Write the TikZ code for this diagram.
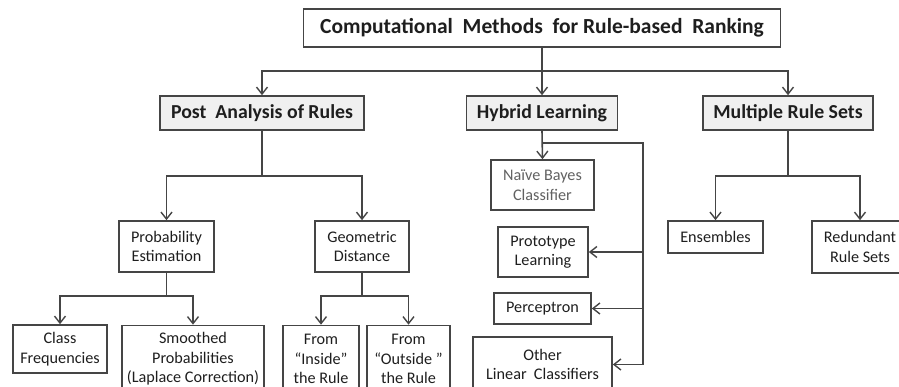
\documentclass[tikz,border=0pt]{standalone}
\usepackage{fontspec}
\setmainfont{Carlito}
\usetikzlibrary{arrows.meta}
\definecolor{linec}{HTML}{454545}
\definecolor{txtc}{HTML}{1E1E1E}
\definecolor{hdfill}{HTML}{F0F0F0}
\tikzset{
  x=1pt, y=-1pt,
  box/.style={draw=linec, line width=1.6pt, rectangle, inner sep=0pt, align=center, text=txtc, font=\fontsize{16.2}{19.5}\selectfont},
  topbox/.style={box, fill=white, font=\bfseries\fontsize{21.5}{24}\selectfont},
  hdbox/.style={box, fill=hdfill, font=\bfseries\fontsize{19.8}{22}\selectfont},
  conn/.style={draw=linec, line width=1.6pt},
  arr/.style={conn, -{Straight Barb[length=7pt,width=11pt,line width=1.4pt]}},
}
\begin{document}
\begin{tikzpicture}
\useasboundingbox (0,0) rectangle (899,387);
\clip (0,0) rectangle (899,387);
% nodes
\node[topbox, minimum width=477pt, minimum height=38pt] (top) at (542,28) {Computational\ \ Methods\ \ for Rule-based\ \ Ranking};
\node[hdbox, minimum width=204pt, minimum height=34pt] (post) at (262,113) {Post\ \ Analysis of Rules};
\node[hdbox, minimum width=151pt, minimum height=34pt] (hybrid) at (542,113) {Hybrid Learning};
\node[hdbox, minimum width=170pt, minimum height=34pt] (multi) at (788,113) {Multiple Rule Sets};
\node[box, minimum width=95pt, minimum height=51pt] (prob) at (166.5,246.5) {Probability\\Estimation};
\node[box, minimum width=94pt, minimum height=51pt] (geom) at (362,246.5) {Geometric\\Distance};
\node[box, minimum width=94pt, minimum height=48pt] (class) at (60,349) {Class\\Frequencies};
\node[box, minimum width=142pt, minimum height=67pt] (smooth) at (193,359) {Smoothed\\Probabilities\\(Laplace Correction)};
\node[box, minimum width=76pt, minimum height=67pt] (inside) at (321,359) {From\\``Inside''\\the Rule};
\node[box, minimum width=83pt, minimum height=67pt] (outside) at (408.5,359) {From\\``Outside~''\\the Rule};
\node[box, minimum width=103pt, minimum height=50pt, text=txtc!70] (naive) at (542.5,185) {Naïve Bayes\\Classifier};
\node[box, minimum width=90pt, minimum height=50pt] (proto) at (543,252) {Prototype\\Learning};
\node[box, minimum width=97pt, minimum height=31pt] (perc) at (542.5,308.5) {Perceptron};
\node[box, minimum width=139pt, minimum height=55pt] (other) at (542.5,364.5) {Other\\Linear\ \ Classifiers};
\node[box, minimum width=95pt, minimum height=32pt] (ens) at (715.5,237) {Ensembles};
\node[box, minimum width=96pt, minimum height=52pt] (red) at (860,247) {Redundant\\Rule Sets};
% junctions
\coordinate (j1) at (542,71);
\coordinate (j2) at (262,176);
\coordinate (j3) at (166.5,296);
\coordinate (j4) at (362,296);
\coordinate (j5) at (542,143);
\coordinate (j6) at (643,143);
\coordinate (j7) at (788,176);
% connectors
\draw[arr] (top.south) -- (hybrid.north);
\draw[arr] (j1) -| (post.north);
\draw[arr] (j1) -| (multi.north);
\draw[conn] (post.south) -- (j2);
\draw[arr] (j2) -| (prob.north);
\draw[arr] (j2) -| (geom.north);
\draw[conn] (prob.south) -- (j3);
\draw[arr] (j3) -| (class.north);
\draw[arr] (j3) -| (smooth.north);
\draw[conn] (geom.south) -- (j4);
\draw[arr] (j4) -| (inside.north);
\draw[arr] (j4) -| (outside.north);
\draw[arr] (hybrid.south) -- (naive.north);
\draw[arr] (j5) -- (j6) |- (other.east);
\draw[arr] (j6 |- proto.east) -- (proto.east);
\draw[arr] (j6 |- perc.east) -- (perc.east);
\draw[conn] (multi.south) -- (j7);
\draw[arr] (j7) -| (ens.north);
\draw[arr] (j7) -| (red.north);
\end{tikzpicture}
\end{document}
